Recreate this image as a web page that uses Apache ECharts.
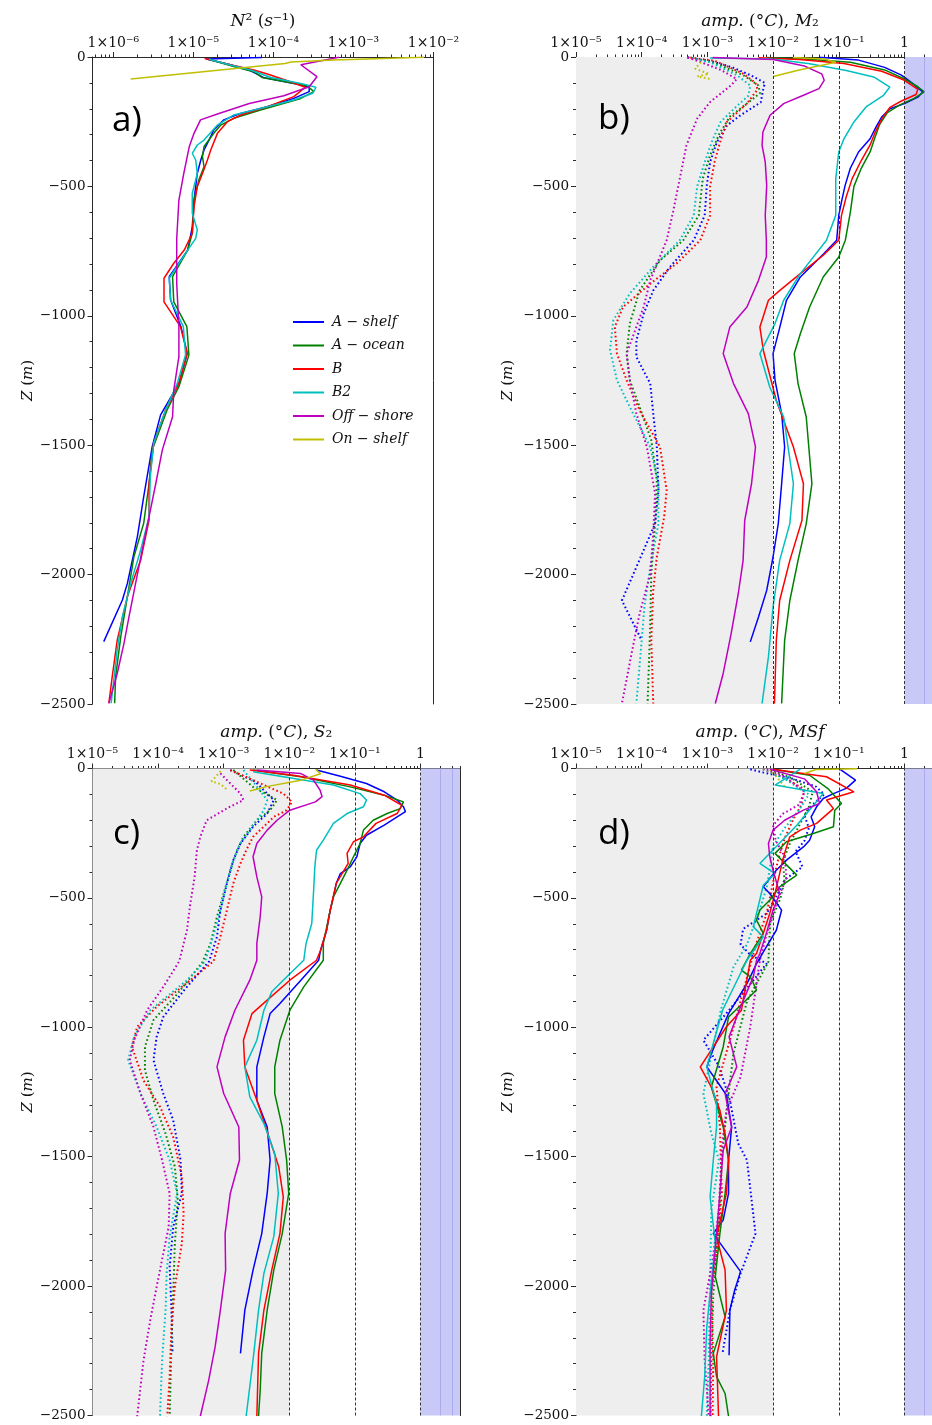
<!DOCTYPE html>
<html>
<head>
<meta charset="utf-8">
<script src="https://cdn.jsdelivr.net/npm/echarts@6.0.0/dist/echarts.min.js"></script>
<style>
html,body{margin:0;padding:0;background:#fff;}
#chart{width:932px;height:1425px;}
</style>
</head>
<body>
<div id="chart"></div>
<script>
// ---------------- DATA ----------------
const SERIES_NAMES = ['A − shelf', 'A − ocean', 'B', 'B2', 'Off − shore', 'On − shelf'];
const PANEL_LABELS = ['a)', 'b)', 'c)', 'd)'];
const TICK_EXP_N2 = [-6, -5, -4, -3, -2];
const TICK_EXP_AMP = [-5, -4, -3, -2, -1, 0];
const DEPTH_TICKS = [0, -500, -1000, -1500, -2000, -2500];

// Panel a: N^2 (s^-1) profiles, [value, depth m]
const n2_Ashelf = [[7.2e-5,-2],[1.45e-5,-8],[2.9e-5,-30],[5.2e-5,-53],[7.5e-5,-79],[1.8e-4,-102],[2.8e-4,-117],[2.8e-4,-134],[1.8e-4,-160],[8.4e-5,-192],[3.9e-5,-218],[2.4e-5,-243],[1.8e-5,-282],[1.57e-5,-321],[1.36e-5,-359],[1.24e-5,-398],[1.12e-5,-450],[1.02e-5,-553],[9.7e-6,-656],[8.5e-6,-746],[5e-6,-849],[5.2e-6,-939],[7e-6,-1042],[8.4e-6,-1145],[6.6e-6,-1261],[3.9e-6,-1383],[3.07e-6,-1505],[2.4e-6,-1699],[2e-6,-1853],[1.5e-6,-2034],[1.3e-6,-2098],[7.6e-7,-2259]];
const n2_Aocean = [[1.5e-5,-8],[3.2e-5,-37],[5.7e-5,-57],[7.2e-5,-79],[1.36e-4,-95],[2.66e-4,-112],[3.2e-4,-134],[2.2e-4,-160],[1.36e-4,-179],[6.9e-5,-205],[3.2e-5,-237],[2.2e-5,-263],[1.8e-5,-295],[1.36e-5,-346],[1.3e-5,-385],[1.36e-5,-424],[1.17e-5,-475],[1.02e-5,-553],[9.7e-6,-681],[8.5e-6,-746],[5.5e-6,-849],[5.7e-6,-946],[8.3e-6,-1042],[8.8e-6,-1152],[6.6e-6,-1274],[4.7e-6,-1364],[3.07e-6,-1518],[2.8e-6,-1647],[2.4e-6,-1801],[1.81e-6,-1931],[1.5e-6,-2085],[1.24e-6,-2240],[1.07e-6,-2394],[1.04e-6,-2497]];
const n2_B = [[1.38e-5,-6],[1.7e-5,-12],[3.2e-5,-33],[5.7e-5,-50],[8.4e-5,-66],[1.6e-4,-95],[2.5e-4,-117],[1.8e-4,-153],[8.4e-5,-192],[3.9e-5,-224],[2.66e-5,-250],[2e-5,-295],[1.65e-5,-359],[1.5e-5,-398],[1.3e-5,-450],[1.12e-5,-501],[1.02e-5,-578],[9.7e-6,-681],[7.7e-6,-746],[5.7e-6,-797],[4.3e-6,-855],[4.3e-6,-946],[6.9e-6,-1042],[8.4e-6,-1145],[6.6e-6,-1261],[4.5e-6,-1364],[3.2e-6,-1492],[2.8e-6,-1647],[2.8e-6,-1789],[2.2e-6,-1944],[1.5e-6,-2085],[1.12e-6,-2253],[9.7e-7,-2394],[8.8e-7,-2497]];
const n2_B2 = [[1.57e-5,-9],[2.9e-5,-31],[5.2e-5,-50],[9.3e-5,-79],[2.2e-4,-102],[3.4e-4,-117],[3.1e-4,-140],[1.8e-4,-166],[8.4e-5,-192],[3.2e-5,-224],[2e-5,-263],[1.36e-5,-321],[1.12e-5,-340],[9.7e-6,-372],[1.07e-5,-398],[1.12e-5,-450],[9.7e-6,-527],[9.7e-6,-604],[1.12e-5,-668],[1.07e-5,-701],[8.5e-6,-746],[5e-6,-855],[5.2e-6,-939],[7.5e-6,-1042],[8e-6,-1150],[6.3e-6,-1261],[4.5e-6,-1364],[3.2e-6,-1492],[2.9e-6,-1622],[2.8e-6,-1776],[2.2e-6,-1905],[1.65e-6,-2034],[1.3e-6,-2163],[1.12e-6,-2291],[9.4e-7,-2497]];
const n2_Offshore = [[6.6e-4,-1],[2.2e-4,-30],[3.5e-4,-76],[2.8e-4,-115],[1.35e-4,-150],[5e-5,-180],[2e-5,-220],[1.23e-5,-243],[1.02e-5,-295],[8.9e-6,-346],[7.6e-6,-450],[6.6e-6,-553],[6.2e-6,-701],[6.2e-6,-875],[6.6e-6,-1042],[6.6e-6,-1158],[5.7e-6,-1287],[5.5e-6,-1390],[4.1e-6,-1518],[3.4e-6,-1647],[2.8e-6,-1776],[2.3e-6,-1905],[1.9e-6,-2034],[1.57e-6,-2163],[1.36e-6,-2266],[1.12e-6,-2382],[8.8e-7,-2497]];
const n2_Onshelf = [[7.6e-3,-1],[5.7e-4,-12],[1.66e-4,-19],[1.4e-4,-25],[1.65e-6,-85]];

// Panel b: amplitude (°C), M2
const m2_Ashelf = [[5e-2,-1],[0.2,-12],[0.5,-40],[0.9,-70],[1.3,-100],[1.9,-135],[1.6,-155],[1.0,-180],[0.6,-200],[0.45,-232],[0.37,-270],[0.3,-316],[0.2,-367],[0.15,-430],[0.125,-496],[0.11,-560],[0.1,-612],[0.093,-708],[0.059,-760],[0.026,-850],[0.016,-940],[0.0127,-1043],[0.01,-1146],[0.0107,-1249],[0.0135,-1378],[0.015,-1507],[0.0135,-1649],[0.012,-1803],[0.01,-1932],[0.008,-2061],[0.006,-2164],[0.0045,-2260]];
const m2_Aocean = [[8e-3,-2],[3e-2,-8],[0.15,-20],[0.5,-50],[1.0,-85],[1.6,-115],[2.0,-135],[1.4,-160],[0.85,-185],[0.55,-215],[0.42,-260],[0.35,-316],[0.3,-367],[0.22,-430],[0.17,-500],[0.15,-600],[0.126,-708],[0.1,-773],[0.058,-850],[0.036,-966],[0.026,-1069],[0.021,-1146],[0.024,-1262],[0.032,-1391],[0.039,-1649],[0.032,-1803],[0.024,-1945],[0.018,-2100],[0.015,-2254],[0.0135,-2498]];
const m2_B = [[6e-3,-3],[2.5e-2,-10],[0.12,-25],[0.45,-55],[1.0,-90],[1.6,-125],[1.5,-145],[0.9,-170],[0.6,-195],[0.45,-240],[0.36,-290],[0.3,-340],[0.22,-400],[0.16,-470],[0.13,-540],[0.11,-612],[0.1,-708],[0.058,-766],[0.026,-837],[0.0127,-902],[0.0085,-940],[0.0063,-1043],[0.0071,-1133],[0.0112,-1327],[0.0204,-1507],[0.029,-1649],[0.0275,-1791],[0.018,-1945],[0.0126,-2100],[0.0112,-2254],[0.0105,-2498]];
const m2_B2 = [[1.1e-3,-4],[1e-2,-8],[3.6e-2,-26],[0.13,-52],[0.34,-77],[0.6,-116],[0.48,-148],[0.26,-193],[0.17,-251],[0.12,-316],[0.1,-367],[0.09,-470],[0.09,-612],[0.065,-708],[0.026,-837],[0.0145,-940],[0.0107,-1030],[0.0063,-1146],[0.0089,-1275],[0.0145,-1391],[0.0204,-1649],[0.018,-1803],[0.0126,-1945],[0.01,-2125],[0.0085,-2318],[0.0068,-2498]];
const m2_Offshore = [[1.2e-3,-2],[1e-2,-10],[3e-2,-35],[5.5e-2,-65],[6e-2,-90],[5e-2,-122],[2.9e-2,-148],[1.45e-2,-180],[9e-3,-225],[7e-3,-290],[6.8e-3,-341],[7.6e-3,-406],[8e-3,-496],[7.6e-3,-612],[7.9e-3,-708],[7.9e-3,-773],[6e-3,-863],[4e-3,-966],[2.2e-3,-1043],[1.74e-3,-1146],[2.5e-3,-1262],[4.2e-3,-1378],[5.4e-3,-1507],[4.7e-3,-1649],[3.7e-3,-1791],[3.5e-3,-1945],[2.95e-3,-2074],[2.3e-3,-2228],[1.74e-3,-2382],[1.32e-3,-2498]];
const m2_Onshelf = [[2e-2,-2],[6e-2,-8],[9e-2,-20],[6e-2,-30],[2.5e-2,-50],[1e-2,-75]];
const m2_Ashelf_dot = [[5e-4,-2],[1.1e-3,-15],[2.4e-3,-40],[4.5e-3,-70],[7.5e-3,-100],[7e-3,-130],[6.5e-3,-175],[3.2e-3,-225],[2e-3,-264],[1.4e-3,-328],[1.1e-3,-406],[9.8e-4,-496],[9.1e-4,-612],[6.2e-4,-708],[2.7e-4,-811],[1.5e-4,-902],[1.07e-4,-992],[8.3e-5,-1095],[8.3e-5,-1159],[1.35e-4,-1262],[1.5e-4,-1378],[1.7e-4,-1507],[1.8e-4,-1674],[1.6e-4,-1803],[8.3e-5,-1971],[5e-5,-2100],[1e-4,-2254]];
const m2_Aocean_dot = [[5e-4,-2],[1.2e-3,-20],[3.5e-3,-70],[6e-3,-110],[6.3e-3,-140],[4e-3,-180],[2.2e-3,-230],[1.5e-3,-300],[1.1e-3,-380],[8.5e-4,-470],[7.4e-4,-612],[4.3e-4,-708],[1.9e-4,-786],[9.3e-5,-902],[6.6e-5,-1030],[5.9e-5,-1146],[6.6e-5,-1249],[9.3e-5,-1352],[1.4e-4,-1481],[1.7e-4,-1636],[1.6e-4,-1803],[1.4e-4,-1997],[1.35e-4,-2190],[1.23e-4,-2498]];
const m2_B_dot = [[5.5e-4,-2],[1.3e-3,-15],[3.5e-3,-64],[5.4e-3,-100],[5.8e-3,-125],[4e-3,-180],[2e-3,-250],[1.6e-3,-320],[1.3e-3,-400],[1.1e-3,-500],[1.1e-3,-612],[7.8e-4,-708],[3.4e-4,-798],[1.35e-4,-876],[5.2e-5,-966],[3.9e-5,-1043],[4.2e-5,-1146],[5.9e-5,-1249],[9.3e-5,-1365],[1.9e-4,-1507],[2.4e-4,-1674],[2.2e-4,-1777],[1.7e-4,-1932],[1.5e-4,-2061],[1.4e-4,-2254],[1.5e-4,-2498]];
const m2_B2_dot = [[5e-4,-2],[1.1e-3,-20],[2.8e-3,-70],[4.5e-3,-110],[4.2e-3,-150],[2.8e-3,-190],[1.6e-3,-250],[1.2e-3,-320],[9e-4,-410],[7e-4,-500],[6.2e-4,-612],[3.8e-4,-708],[1.5e-4,-811],[6.6e-5,-914],[3.7e-5,-1017],[3.3e-5,-1133],[4.2e-5,-1249],[7.4e-5,-1378],[1.35e-4,-1507],[1.8e-4,-1649],[1.8e-4,-1803],[1.35e-4,-1971],[1.1e-4,-2125],[1e-4,-2254],[8.3e-5,-2498]];
const m2_Offshore_dot = [[5e-4,-2],[8e-4,-20],[1.6e-3,-50],[2.8e-3,-85],[2.3e-3,-109],[1.1e-3,-174],[7e-4,-238],[4.8e-4,-341],[3.8e-4,-470],[3e-4,-599],[2.4e-4,-708],[1.35e-4,-863],[1.07e-4,-966],[5.9e-5,-1146],[6.6e-5,-1249],[8.3e-5,-1378],[1.2e-4,-1507],[1.6e-4,-1687],[1.5e-4,-1842],[1.35e-4,-1997],[9.3e-5,-2151],[7e-5,-2306],[5e-5,-2498]];
const m2_Onshelf_dot = [[8e-4,-20],[6.5e-4,-45],[1.05e-3,-65],[7e-4,-75],[1.1e-3,-85]];

// Panel c: amplitude (°C), S2
const s2_Ashelf = [[0.026,-6],[0.06,-30],[0.15,-58],[0.28,-90],[0.44,-122],[0.55,-148],[0.59,-167],[0.44,-187],[0.28,-219],[0.15,-258],[0.12,-290],[0.107,-341],[0.085,-380],[0.06,-406],[0.052,-444],[0.047,-496],[0.042,-547],[0.037,-625],[0.03,-702],[0.028,-741],[0.015,-818],[0.0072,-908],[0.0051,-947],[0.0041,-1037],[0.0032,-1153],[0.0032,-1282],[0.0046,-1385],[0.0051,-1513],[0.0046,-1642],[0.0038,-1797],[0.0028,-1938],[0.0021,-2093],[0.0018,-2260]];
const s2_Aocean = [[2.8e-3,-6],[0.015,-32],[0.085,-71],[0.28,-103],[0.55,-129],[0.49,-155],[0.31,-174],[0.19,-200],[0.135,-238],[0.12,-290],[0.095,-341],[0.076,-393],[0.06,-444],[0.047,-496],[0.04,-573],[0.033,-676],[0.033,-741],[0.0166,-844],[0.0102,-934],[0.0072,-1050],[0.006,-1153],[0.006,-1256],[0.0078,-1385],[0.0091,-1513],[0.0098,-1642],[0.0078,-1797],[0.0058,-1938],[0.0046,-2093],[0.0038,-2260],[0.0036,-2402],[0.0034,-2503]];
const s2_B = [[2.5e-3,-6],[0.0115,-26],[0.085,-64],[0.28,-103],[0.52,-142],[0.44,-174],[0.21,-212],[0.135,-264],[0.095,-283],[0.076,-328],[0.079,-367],[0.052,-444],[0.042,-547],[0.037,-625],[0.03,-702],[0.026,-741],[0.0102,-818],[0.0046,-895],[0.0027,-947],[0.002,-1050],[0.0021,-1153],[0.0032,-1282],[0.0051,-1437],[0.0069,-1539],[0.0081,-1655],[0.0072,-1797],[0.0054,-1938],[0.0041,-2093],[0.0034,-2260],[0.0032,-2503]];
const s2_B2 = [[2.8e-3,-13],[0.047,-64],[0.12,-97],[0.15,-122],[0.135,-148],[0.076,-174],[0.047,-212],[0.033,-277],[0.026,-316],[0.0245,-380],[0.0235,-470],[0.022,-599],[0.018,-676],[0.0166,-741],[0.0081,-818],[0.0054,-863],[0.0041,-934],[0.0032,-1050],[0.0021,-1153],[0.0025,-1269],[0.0041,-1372],[0.006,-1488],[0.0068,-1642],[0.0058,-1809],[0.0041,-1951],[0.0034,-2093],[0.0028,-2286],[0.0022,-2503]];
const s2_Offshore = [[3.2e-3,-6],[0.0148,-19],[0.0234,-45],[0.0295,-84],[0.0316,-109],[0.025,-129],[0.0102,-161],[6.5e-3,-200],[4.6e-3,-238],[3.2e-3,-290],[2.8e-3,-341],[3.2e-3,-419],[3.8e-3,-496],[3.6e-3,-573],[3.2e-3,-676],[3.2e-3,-741],[2.5e-3,-818],[1.48e-3,-934],[1.05e-3,-1037],[7.9e-4,-1153],[1e-3,-1256],[1.7e-3,-1385],[1.74e-3,-1513],[1.26e-3,-1642],[1.05e-3,-1797],[1.07e-3,-1938],[8.9e-4,-2093],[7.4e-4,-2235],[5.9e-4,-2364],[4.4e-4,-2503]];
const s2_Onshelf = [[0.025,-3],[0.03,-20],[0.015,-45],[4.5e-3,-70],[2.5e-3,-87]];
const s2_Ashelf_dot = [[1.26e-3,-6],[3e-3,-50],[5.8e-3,-122],[4.6e-3,-174],[2.8e-3,-225],[1.8e-3,-290],[1.4e-3,-354],[1.12e-3,-444],[8.9e-4,-547],[7.9e-4,-650],[6e-4,-745],[2.5e-4,-856],[1.2e-4,-960],[9.5e-5,-1037],[8.5e-5,-1127],[1.2e-4,-1256],[1.7e-4,-1359],[2.2e-4,-1513],[2.3e-4,-1642],[1.7e-4,-1771],[1.5e-4,-1926],[1.6e-4,-2093],[1.66e-4,-2260]];
const s2_Aocean_dot = [[1.4e-3,-6],[2.8e-3,-71],[6.5e-3,-122],[5.1e-3,-161],[3.2e-3,-200],[2e-3,-264],[1.6e-3,-316],[1.26e-3,-393],[1e-3,-483],[7.9e-4,-573],[6.3e-4,-676],[4.7e-4,-750],[2e-4,-869],[8.5e-5,-972],[6.3e-5,-1076],[6.3e-5,-1166],[8.5e-5,-1282],[1.3e-4,-1411],[1.8e-4,-1539],[2e-4,-1668],[1.8e-4,-1835],[1.7e-4,-2028],[1.6e-4,-2222],[1.5e-4,-2503]];
const s2_B_dot = [[1.26e-3,-6],[8.1e-3,-97],[1.1e-2,-129],[9.1e-3,-161],[5.8e-3,-187],[4.6e-3,-212],[2.8e-3,-264],[2.2e-3,-316],[1.8e-3,-367],[1.4e-3,-444],[1.12e-3,-547],[8.9e-4,-650],[7e-4,-745],[3.1e-4,-818],[9.5e-5,-921],[4.8e-5,-998],[4e-5,-1076],[6e-5,-1205],[1.07e-4,-1307],[1.7e-4,-1424],[2.3e-4,-1578],[2.45e-4,-1720],[2.3e-4,-1835],[1.8e-4,-2003],[1.6e-4,-2157],[1.5e-4,-2350],[1.38e-4,-2503]];
const s2_B2_dot = [[2e-3,-6],[3e-3,-60],[4.6e-3,-122],[4.1e-3,-161],[1.8e-3,-290],[1.4e-3,-354],[1.12e-3,-444],[8.9e-4,-547],[6.9e-4,-650],[5.2e-4,-745],[2.75e-4,-818],[7.6e-5,-934],[4.3e-5,-1037],[3.5e-5,-1127],[5.4e-5,-1256],[9.5e-5,-1385],[1.5e-4,-1513],[1.95e-4,-1642],[1.5e-4,-1809],[1.35e-4,-1951],[1.3e-4,-2093],[1.15e-4,-2286],[1.07e-4,-2503]];
const s2_Offshore_dot = [[8.9e-4,-19],[1.8e-3,-97],[2e-3,-122],[1.2e-3,-150],[5.5e-4,-200],[4.4e-4,-264],[3.9e-4,-316],[3.6e-4,-419],[3.1e-4,-522],[2.75e-4,-625],[2.1e-4,-745],[1.2e-4,-844],[6.8e-5,-934],[4.3e-5,-1050],[3.7e-5,-1127],[5.4e-5,-1256],[8.5e-5,-1385],[1.15e-4,-1513],[1.5e-4,-1642],[1.45e-4,-1771],[1.2e-4,-1874],[9.5e-5,-2003],[7.6e-5,-2131],[6e-5,-2286],[4.8e-5,-2503]];
const s2_Onshelf_dot = [[9e-4,-10],[6.5e-4,-50],[9e-4,-60],[1.1e-3,-80]];

// Panel d: amplitude (°C), MSf
const msf_Ashelf = [[0.105,-3],[0.18,-45],[0.13,-77],[0.083,-97],[0.058,-116],[0.046,-148],[0.038,-187],[0.043,-225],[0.036,-277],[0.029,-303],[0.016,-354],[0.0112,-393],[0.0071,-457],[0.0089,-483],[0.0135,-547],[0.0112,-625],[0.0079,-689],[0.0056,-754],[0.0045,-805],[0.004,-831],[0.0021,-947],[0.00115,-1101],[0.00098,-1153],[0.00148,-1217],[0.00195,-1262],[0.00234,-1385],[0.0021,-1513],[0.0021,-1642],[0.00174,-1745],[0.00123,-1797],[0.0032,-1944],[0.0026,-2016],[0.0022,-2093],[0.00214,-2267]];
const msf_Aocean = [[0.01,-3],[0.036,-26],[0.07,-80],[0.11,-135],[0.087,-161],[0.083,-225],[0.041,-251],[0.016,-283],[0.0107,-328],[0.023,-412],[0.0126,-457],[0.0089,-509],[0.0063,-547],[0.0056,-586],[0.0071,-637],[0.0045,-715],[0.0033,-779],[0.0045,-805],[0.0056,-856],[0.0021,-960],[0.00174,-1076],[0.00115,-1231],[0.00174,-1385],[0.0021,-1513],[0.00186,-1642],[0.00155,-1797],[0.00132,-1964],[0.00186,-2119],[0.00123,-2260],[0.00138,-2350],[0.00186,-2415],[0.0021,-2503]];
const msf_B = [[0.01,-3],[0.065,-32],[0.17,-90],[0.065,-122],[0.083,-155],[0.046,-212],[0.026,-238],[0.018,-264],[0.016,-303],[0.014,-354],[0.0126,-406],[0.0107,-483],[0.0089,-560],[0.0071,-637],[0.0056,-715],[0.0045,-741],[0.0033,-934],[0.00195,-998],[0.00078,-1153],[0.00115,-1231],[0.00155,-1321],[0.00186,-1411],[0.0021,-1513],[0.00195,-1642],[0.00138,-1810],[0.00186,-1938],[0.00195,-2093],[0.00138,-2273],[0.00148,-2503]];
const msf_B2 = [[0.026,-2],[0.0107,-64],[0.058,-97],[0.023,-219],[0.0063,-367],[0.0107,-406],[0.0071,-451],[0.0056,-560],[0.005,-612],[0.0071,-650],[0.004,-741],[0.0017,-934],[0.00098,-1153],[0.00138,-1295],[0.00138,-1385],[0.00123,-1513],[0.0011,-1655],[0.00132,-1835],[0.0011,-2028],[0.00098,-2157],[0.00091,-2350],[0.00081,-2503]];
const msf_Offshore = [[0.009,-3],[0.03,-40],[0.046,-90],[0.051,-135],[0.029,-161],[0.015,-200],[0.01,-238],[0.0085,-290],[0.0089,-341],[0.01,-393],[0.0126,-483],[0.01,-547],[0.0079,-637],[0.0063,-715],[0.0056,-741],[0.005,-805],[0.0032,-921],[0.00214,-1037],[0.0028,-1153],[0.00186,-1256],[0.00234,-1385],[0.00174,-1475],[0.00155,-1642],[0.00138,-1797],[0.00115,-2028],[0.0011,-2222],[0.0011,-2503]];
const msf_Onshelf = [[0.19,-1],[0.045,-4],[0.03,-19]];
const msf_Ashelf_dot = [[4.5e-3,-3],[7e-3,-15],[2e-2,-40],[4.5e-2,-70],[6e-2,-100],[4e-2,-140],[3e-2,-180],[3.5e-2,-230],[3e-2,-280],[2.2e-2,-320],[2.8e-2,-380],[1.5e-2,-430],[1.2e-2,-480],[8e-3,-560],[3.5e-3,-620],[3.2e-3,-680],[4.5e-3,-720],[8e-3,-754],[2.2e-3,-930],[8.7e-4,-1050],[1.5e-3,-1150],[2.2e-3,-1282],[2.95e-3,-1449],[4e-3,-1513],[5.4e-3,-1797],[3.2e-3,-1951],[2.2e-3,-2093],[1.7e-3,-2260]];
const msf_Aocean_dot = [[9e-3,-3],[2e-2,-40],[4e-2,-90],[3.5e-2,-150],[2.5e-2,-220],[1.8e-2,-290],[1.4e-2,-360],[1.5e-2,-430],[1.3e-2,-500],[9e-3,-600],[8.5e-3,-747],[4e-3,-900],[2.5e-3,-1100],[2e-3,-1300],[1.66e-3,-1513],[1.48e-3,-1771],[1.23e-3,-2028],[1.15e-3,-2286],[1.12e-3,-2503]];
const msf_B_dot = [[7e-3,-3],[1.3e-2,-30],[3e-2,-80],[2.7e-2,-140],[2e-2,-200],[1.5e-2,-270],[1.2e-2,-350],[1e-2,-440],[8e-3,-560],[5.5e-3,-680],[4.5e-3,-760],[2.5e-3,-1000],[1.38e-3,-1231],[1.55e-3,-1385],[1.66e-3,-1642],[1.4e-3,-1850],[1.15e-3,-2028],[1.23e-3,-2286],[1.2e-3,-2503]];
const msf_B2_dot = [[7e-3,-3],[1.5e-2,-40],[3.5e-2,-100],[2.5e-2,-160],[1.5e-2,-230],[1e-2,-300],[9e-3,-380],[8e-3,-460],[6e-3,-560],[4e-3,-680],[2.5e-3,-767],[1.6e-3,-934],[8.7e-4,-1256],[1.15e-3,-1411],[1.5e-3,-1513],[1.15e-3,-1707],[1.1e-3,-1964],[1.05e-3,-2286],[9.8e-4,-2503]];
const msf_Offshore_dot = [[8e-3,-3],[1.5e-2,-30],[3e-2,-90],[2.5e-2,-140],[1.4e-2,-175],[1e-2,-220],[1.1e-2,-280],[1.5e-2,-340],[1.6e-2,-420],[1.3e-2,-480],[1e-2,-560],[8e-3,-640],[6.3e-3,-741],[4.5e-3,-998],[3.2e-3,-1192],[1.95e-3,-1321],[1.66e-3,-1462],[1.5e-3,-1700],[1.2e-3,-1900],[8.7e-4,-2093],[9.1e-4,-2286],[1.05e-3,-2503]];
const msf_Onshelf_dot = [[9e-3,-3],[1.2e-2,-40],[1.5e-2,-70]];

// ---------------- LAYOUT / STYLE ----------------
const COLORS = ['#0000ff', '#008000', '#ff0000', '#00bfbf', '#bf00bf', '#bfbf00'];
const SERIF = 'DejaVu Serif';
const INK = '#111';
const AXIS_INK = '#2a2a2a';

const panels = [
  { grid: {left: 92.5, top: 57, width: 341, height: 647},
    range: [5.5e-7, 1e-2], ticks: TICK_EXP_N2, shade: false, spine: true,
    title: '{i|N}{n|² (}{i|s}{n|⁻¹)}',
    solid: [n2_Ashelf, n2_Aocean, n2_B, n2_B2, n2_Offshore, n2_Onshelf], dotted: null,
    label: [112, 121], yNameGap: 52 },
  { grid: {left: 576, top: 57, width: 368, height: 647},
    range: [1e-5, 4], ticks: TICK_EXP_AMP, shade: true, spine: false,
    title: '{i|amp.}{n| (°}{i|C}{n|), }{i|M}{n|₂}',
    solid: [m2_Ashelf, m2_Aocean, m2_B, m2_B2, m2_Offshore, m2_Onshelf],
    dotted: [m2_Ashelf_dot, m2_Aocean_dot, m2_B_dot, m2_B2_dot, m2_Offshore_dot, m2_Onshelf_dot],
    label: [598, 119], yNameGap: 60 },
  { grid: {left: 92.5, top: 768.5, width: 367.5, height: 647},
    range: [1e-5, 4], ticks: TICK_EXP_AMP, shade: true, spine: true,
    title: '{i|amp.}{n| (°}{i|C}{n|), }{i|S}{n|₂}',
    solid: [s2_Ashelf, s2_Aocean, s2_B, s2_B2, s2_Offshore, s2_Onshelf],
    dotted: [s2_Ashelf_dot, s2_Aocean_dot, s2_B_dot, s2_B2_dot, s2_Offshore_dot, s2_Onshelf_dot],
    label: [113, 834], yNameGap: 56 },
  { grid: {left: 576, top: 768.5, width: 368, height: 647},
    range: [1e-5, 4], ticks: TICK_EXP_AMP, shade: true, spine: false,
    title: '{i|amp.}{n| (°}{i|C}{n|), }{i|MSf}',
    solid: [msf_Ashelf, msf_Aocean, msf_B, msf_B2, msf_Offshore, msf_Onshelf],
    dotted: [msf_Ashelf_dot, msf_Aocean_dot, msf_B_dot, msf_B2_dot, msf_Offshore_dot, msf_Onshelf_dot],
    label: [598, 834], yNameGap: 60 }
];

const SUP = '⁰¹²³⁴⁵⁶⁷⁸⁹';
const sup = s => String(s).replace(/-/g, '⁻').replace(/\d/g, d => SUP[d]);
const expLabel = e => (e === 0 ? '1' : '1×10' + sup(e));
const toLog = arr => arr.map(p => [Math.log10(p[0]), p[1]]);
const richTitle = {
  i: {fontFamily: SERIF, fontStyle: 'italic', fontSize: 17, color: INK},
  n: {fontFamily: SERIF, fontSize: 17, color: INK}
};
const richZ = {
  i: {fontFamily: SERIF, fontStyle: 'italic', fontSize: 15, color: INK},
  n: {fontFamily: SERIF, fontSize: 15, color: INK}
};

const option = {
  animation: false,
  backgroundColor: '#ffffff',
  grid: [], xAxis: [], yAxis: [], series: [],
  legend: {
    data: SERIES_NAMES, orient: 'vertical', left: 287, top: 310,
    itemWidth: 31, itemHeight: 14, itemGap: 9.5,
    itemStyle: {opacity: 0},
    lineStyle: {width: 2},
    textStyle: {fontFamily: SERIF, fontStyle: 'italic', fontSize: 14, color: INK, padding: [0, 0, 0, 3]},
    selectedMode: false
  },
  graphic: {elements: []}
};

panels.forEach((p, gi) => {
  option.grid.push(Object.assign({outerBoundsMode: 'none', containLabel: false}, p.grid));
  const lo = Math.log10(p.range[0]), hi = Math.log10(p.range[1]);
  const majors = p.ticks.slice();
  const minors = [];
  for (let e = Math.floor(lo); e <= Math.ceil(hi); e++) {
    for (let k = 2; k <= 9; k++) {
      const v = e + Math.log10(k);
      if (v >= lo - 1e-9 && v <= hi + 1e-9) minors.push(v);
    }
  }
  const xMain = option.xAxis.length;
  option.xAxis.push({
    gridIndex: gi, type: 'value', position: 'top', min: lo, max: hi,
    axisLine: {show: true, onZero: false, lineStyle: {color: AXIS_INK, width: 1}},
    axisTick: {show: true, inside: false, length: 5, customValues: majors, lineStyle: {color: AXIS_INK}},
    axisLabel: {show: true, customValues: majors, formatter: v => expLabel(Math.round(v)),
      margin: 7, fontFamily: SERIF, fontSize: 14, color: INK},
    splitLine: {show: false},
    name: p.title, nameLocation: 'middle', nameGap: 27,
    nameTextStyle: {fontFamily: SERIF, fontSize: 17, color: INK, rich: richTitle}
  });
  option.xAxis.push({
    gridIndex: gi, type: 'value', position: 'top', min: lo, max: hi,
    axisLine: {show: false, onZero: false},
    axisTick: {show: true, inside: false, length: 2.5, customValues: minors, lineStyle: {color: AXIS_INK}},
    axisLabel: {show: false}, splitLine: {show: false}
  });
  const yMain = option.yAxis.length;
  option.yAxis.push({
    gridIndex: gi, type: 'value', position: 'left', min: -2500, max: 0, interval: 500,
    axisLine: {show: true, onZero: false, lineStyle: {color: AXIS_INK, width: 1}},
    axisTick: {show: true, inside: false, length: 5, lineStyle: {color: AXIS_INK}},
    minorTick: {show: true, splitNumber: 5, length: 3, lineStyle: {color: AXIS_INK}},
    axisLabel: {formatter: v => (v < 0 ? '−' + Math.abs(v) : String(v)), margin: 7,
      fontFamily: SERIF, fontSize: 13.5, color: INK},
    splitLine: {show: false}, minorSplitLine: {show: false},
    name: '{i|Z}{n| (}{i|m}{n|)}', nameLocation: 'middle', nameGap: p.yNameGap,
    nameTextStyle: {fontFamily: SERIF, fontSize: 15, color: INK, rich: richZ}
  });
  if (p.spine) {
    option.yAxis.push({
      gridIndex: gi, type: 'value', position: 'right', min: -2500, max: 0,
      axisLine: {show: true, onZero: false, lineStyle: {color: AXIS_INK, width: 1}},
      axisTick: {show: false}, axisLabel: {show: false}, splitLine: {show: false}
    });
  }
  if (p.shade) {
    option.series.push({
      type: 'line', name: 'shade' + gi, xAxisIndex: xMain, yAxisIndex: yMain,
      data: [[lo, -2500]], symbol: 'none', silent: true, z: 1,
      lineStyle: {opacity: 0},
      markArea: {silent: true, data: [
        [{xAxis: lo, yAxis: -2500, itemStyle: {color: '#eeeeee'}}, {xAxis: -2, yAxis: 0}],
        [{xAxis: 0, yAxis: -2500, itemStyle: {color: '#c9c9f7'}}, {xAxis: hi, yAxis: 0}]
      ]},
      markLine: {silent: true, symbol: 'none', label: {show: false}, data: [
        {xAxis: -2, lineStyle: {color: '#333', type: [3, 2], width: 1}},
        {xAxis: -1, lineStyle: {color: '#333', type: [3, 2], width: 1}},
        {xAxis: 0, lineStyle: {color: '#333', type: [3, 2], width: 1}},
        {xAxis: Math.log10(2), lineStyle: {color: 'rgba(140,140,225,0.5)', type: 'solid', width: 1}},
        {xAxis: Math.log10(3), lineStyle: {color: 'rgba(140,140,225,0.5)', type: 'solid', width: 1}}
      ]}
    });
  }
  if (p.dotted) {
    p.dotted.forEach((arr, si) => {
      option.series.push({
        type: 'line', name: SERIES_NAMES[si] + ' (dotted ' + gi + ')',
        xAxisIndex: xMain, yAxisIndex: yMain, data: toLog(arr),
        symbol: 'none', silent: true, z: 3,
        lineStyle: {color: COLORS[si], width: 2, type: [1.6, 2.6]},
        itemStyle: {color: COLORS[si]}
      });
    });
  }
  p.solid.forEach((arr, si) => {
    option.series.push({
      type: 'line', name: SERIES_NAMES[si],
      xAxisIndex: xMain, yAxisIndex: yMain, data: toLog(arr),
      symbol: 'none', silent: true, z: 4,
      lineStyle: {color: COLORS[si], width: 1.5},
      itemStyle: {color: COLORS[si]}
    });
  });
  option.graphic.elements.push({
    type: 'text', x: p.label[0], y: p.label[1], silent: true, z: 100, zlevel: 0,
    style: {text: PANEL_LABELS[gi], fontFamily: 'Open Sans', fontSize: 35, fill: '#000',
      verticalAlign: 'middle', textVerticalAlign: 'middle', align: 'left'}
  });
});

const chart = echarts.init(document.getElementById('chart'), null, {renderer: 'canvas'});
chart.setOption(option);
</script>
</body>
</html>
